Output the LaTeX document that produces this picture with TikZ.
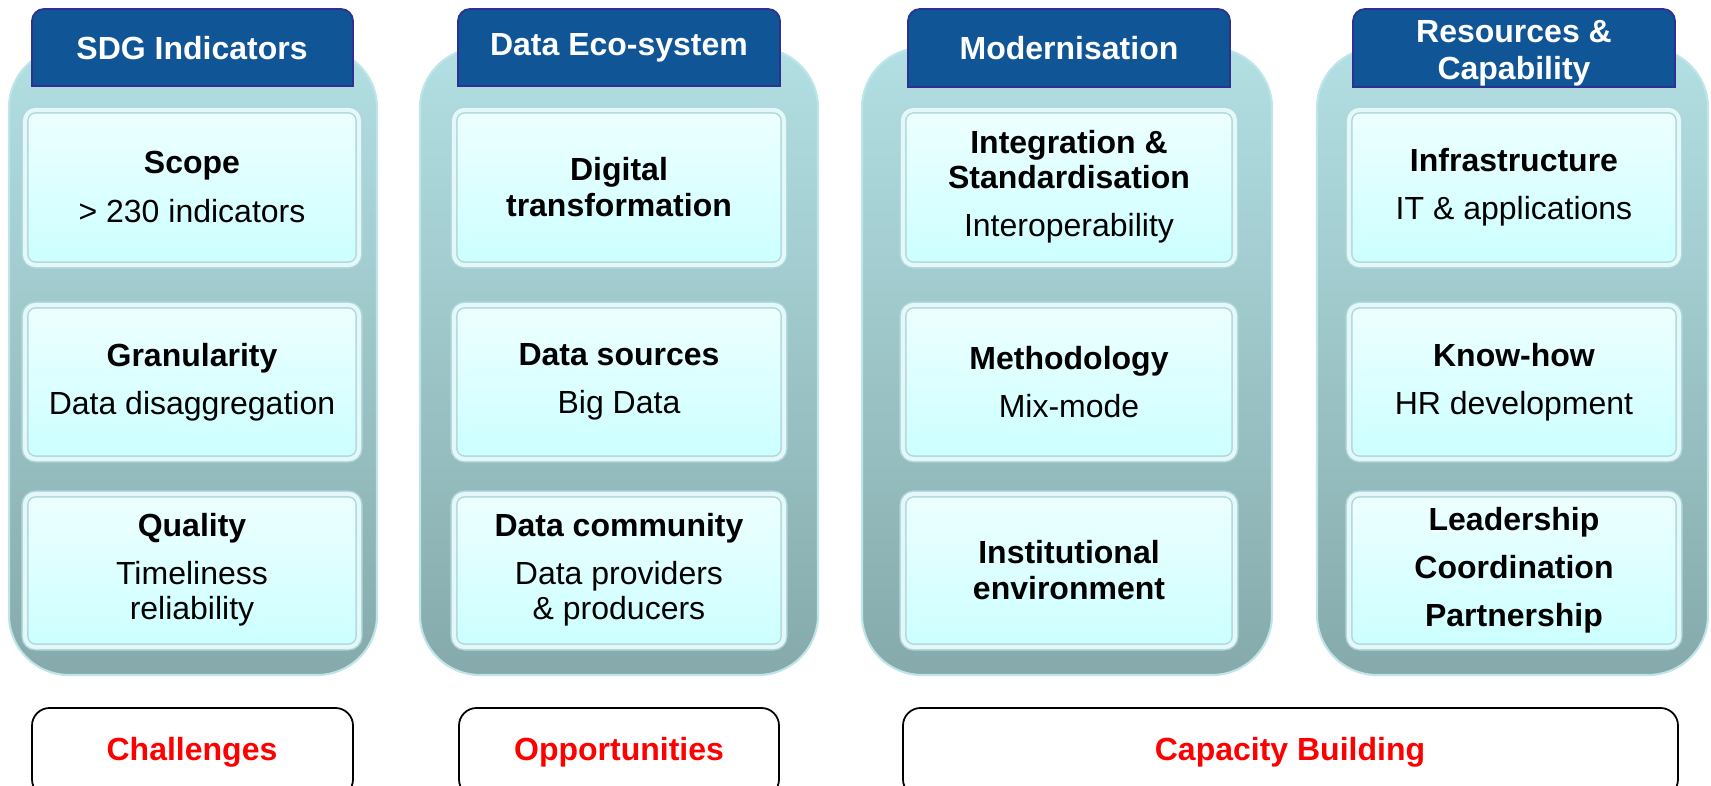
\documentclass[tikz,border=0pt]{standalone}
\usepackage{fontspec}
\setmainfont{Liberation Sans}
\usetikzlibrary{positioning}

\definecolor{azulcab}{RGB}{16,85,150}
\definecolor{bordecab}{RGB}{46,49,146}
\definecolor{panelarriba}{RGB}{178,223,227}
\definecolor{panelabajo}{RGB}{134,170,171}
\definecolor{bordepanel}{RGB}{192,229,233}
\definecolor{cajaarriba}{RGB}{238,255,255}
\definecolor{cajaabajo}{RGB}{204,255,255}
\definecolor{bordecaja}{RGB}{176,214,218}
\definecolor{bordecajain}{RGB}{226,248,249}
\definecolor{rojo}{RGB}{255,0,0}

\tikzset{
  panel/.style={draw=bordepanel, line width=0.6pt, top color=panelarriba, bottom color=panelabajo, rounded corners=17pt},
  caja/.style={draw=bordecaja, line width=0.4pt, double=bordecajain, double distance=1.2pt, top color=cajaarriba, bottom color=cajaabajo, rounded corners=3pt},
  cabecera/.style={draw=bordecab, line width=0.5pt, fill=azulcab},
  titulo/.style={text=white, inner sep=0pt, align=center, font=\fontsize{9.1}{10}\selectfont\bfseries},
  texto/.style={inner sep=0pt, align=center, font=\fontsize{9.1}{10}\selectfont},
  etiqueta/.style={draw=black, line width=0.5pt, fill=white, rounded corners=5pt},
  rotulo/.style={text=rojo, inner sep=0pt, font=\fontsize{9.1}{10}\selectfont\bfseries}
}

\begin{document}
\begin{tikzpicture}[x=0.01cm, y=-0.01cm]
  \useasboundingbox (0,0) rectangle (1711,786);
  \clip (0,0) rectangle (1711,786);

  % Paneles de fondo
  \draw[panel] (9,48) rectangle (377,675);
  \draw[panel] (420,48) rectangle (818,675);
  \draw[panel] (862,48) rectangle (1272,675);
  \draw[panel] (1317,48) rectangle (1708,675);

  % Cabeceras
  \draw[cabecera] (192,86) [sharp corners] -- (32,86) -- (32,50) [rounded corners=3.4pt] -- (32,9) -- (353,9) -- (353,50) [sharp corners] -- (353,86) -- cycle;
  \draw[cabecera] (619,86) [sharp corners] -- (458,86) -- (458,50) [rounded corners=3.4pt] -- (458,9) -- (780,9) -- (780,50) [sharp corners] -- (780,86) -- cycle;
  \draw[cabecera] (1069,87) [sharp corners] -- (908,87) -- (908,50) [rounded corners=3.4pt] -- (908,9) -- (1230,9) -- (1230,50) [sharp corners] -- (1230,87) -- cycle;
  \draw[cabecera] (1514,87) [sharp corners] -- (1353,87) -- (1353,50) [rounded corners=3.4pt] -- (1353,9) -- (1675,9) -- (1675,50) [sharp corners] -- (1675,87) -- cycle;
  \node[titulo] (sdg) at (192,48) {SDG Indicators};
  \node[titulo] (eco) at (619,48) {Data Eco-system};
  \node[titulo] (moder) at (1069,48) {Modernisation};
  \node[titulo] (recursos) at (1514,53) {Resources \&\\[0.6pt]Capability};

  % Cajas interiores
  \draw[caja] (25,110) rectangle (359,265);
  \draw[caja] (25,305) rectangle (359,459);
  \draw[caja] (25,494) rectangle (359,647);
  \draw[caja] (454,110) rectangle (784,265);
  \draw[caja] (454,305) rectangle (784,459);
  \draw[caja] (454,494) rectangle (784,647);
  \draw[caja] (903,110) rectangle (1235,265);
  \draw[caja] (903,305) rectangle (1235,459);
  \draw[caja] (903,494) rectangle (1235,647);
  \draw[caja] (1349,110) rectangle (1679,265);
  \draw[caja] (1349,305) rectangle (1679,459);
  \draw[caja] (1349,494) rectangle (1679,647);

  % Textos de las cajas
  \node[texto] (scope) at (192,187) {\textbf{Scope}\\[3.7pt]> 230 indicators};
  \node[texto] (granular) at (192,382) {\textbf{Granularity}\\[3.7pt]Data disaggregation};
  \node[texto] (quality) at (192,570) {\textbf{Quality}\\[3.7pt]Timeliness\\reliability};
  \node[texto] (digital) at (619,187) {\textbf{Digital}\\\textbf{transformation}};
  \node[texto] (sources) at (619,382) {\textbf{Data sources}\\[3.7pt]Big Data};
  \node[texto] (community) at (619,570) {\textbf{Data community}\\[3.7pt]Data providers\\\& producers};
  \node[texto] (integra) at (1069,187) {\textbf{Integration \&}\\\textbf{Standardisation}\\[3.7pt]Interoperability};
  \node[texto] (method) at (1069,382) {\textbf{Methodology}\\[3.7pt]Mix-mode};
  \node[texto] (instit) at (1069,570) {\textbf{Institutional}\\\textbf{environment}};
  \node[texto] (infra) at (1514,187) {\textbf{Infrastructure}\\[3.7pt]IT \& applications};
  \node[texto] (knowhow) at (1514,382) {\textbf{Know-how}\\[3.7pt]HR development};
  \node[texto] (leader) at (1514,570) {\textbf{Leadership}\\[3.7pt]\textbf{Coordination}\\[3.7pt]\textbf{Partnership}};

  % Etiquetas inferiores
  \draw[etiqueta] (32,708) rectangle (353,797);
  \draw[etiqueta] (459,708) rectangle (779,797);
  \draw[etiqueta] (903,708) rectangle (1678,797);
  \node[rotulo] (retos) at (192,752) {Challenges};
  \node[rotulo] (oportun) at (619,752) {Opportunities};
  \node[rotulo] (capacidad) at (1290,752) {Capacity Building};
\end{tikzpicture}
\end{document}
